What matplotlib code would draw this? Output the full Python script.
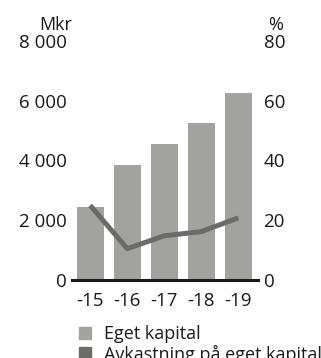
import matplotlib
matplotlib.use("Agg")
import matplotlib.pyplot as plt
from matplotlib.patches import Patch
import numpy as np

BAR = "#a2a39e"
LINE = "#6b6c67"
TEXT = "#1a1a1a"

years = ["-15", "-16", "-17", "-18", "-19"]
equity = [2450, 3850, 4550, 5250, 6250]      # Mkr
roe = [25.0, 10.5, 14.8, 16.2, 20.8]         # %
left_ticks = [0, 2000, 4000, 6000, 8000]
right_ticks = [0, 20, 40, 60, 80]

plt.rcParams.update({
    "font.family": ["Open Sans", "DejaVu Sans"],
    "font.size": 13,
    "text.color": TEXT,
    "xtick.color": TEXT,
    "ytick.color": TEXT,
})

W, H = 321, 358
fig = plt.figure(figsize=(W / 100, H / 100), dpi=100)
ax = fig.add_axes([72 / W, 78 / H, 186 / W, 239 / H])
ax2 = ax.twinx()

x = np.arange(len(years))
ax.bar(x, equity, width=0.73, color=BAR, zorder=1)
ax2.plot(x, roe, color=LINE, linewidth=3.6, solid_capstyle="butt", zorder=3)

ax.set_xlim(-0.49, 4.53)
ax.set_ylim(0, 8000)
ax2.set_ylim(0, 80)
ax.set_xticks(x)
ax.set_xticklabels(years, fontsize=13.5)
ax.set_yticks(left_ticks)
ax.set_yticklabels([f"{v:,}".replace(",", " ") for v in left_ticks], fontsize=13.5)
ax2.set_yticks(right_ticks)
ax2.set_yticklabels([str(v) for v in right_ticks], fontsize=13.5)

for a in (ax, ax2):
    for s in ("top", "left", "right", "bottom"):
        a.spines[s].set_visible(False)
ax.spines["bottom"].set_visible(True)
ax.spines["bottom"].set_linewidth(2.2)
ax.spines["bottom"].set_color(TEXT)
ax.spines["bottom"].set_zorder(5)
ax.tick_params(axis="x", length=0, pad=9)
ax.tick_params(axis="y", length=0, pad=4)
ax2.tick_params(axis="y", length=0, pad=4)

fig.text(56 / W, 1 - 25 / H, "Mkr", ha="center", va="center")
fig.text(276 / W, 1 - 25 / H, "%", ha="center", va="center")

handles = [Patch(color=BAR, label="Eget kapital"),
           Patch(color=LINE, label="Avkastning på eget kapital")]
fig.legend(handles=handles, loc="upper left", bbox_to_anchor=(79 / W, 1 - 325 / H),
           frameon=False, handlelength=0.66, handleheight=0.66, handletextpad=0.7,
           labelspacing=0.1, borderaxespad=0, borderpad=0)

fig.savefig("out.png", dpi=100)
